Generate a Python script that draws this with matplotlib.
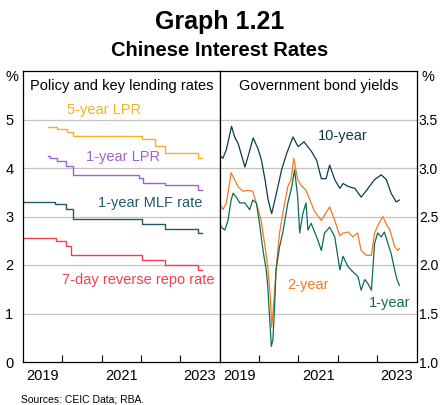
import matplotlib
matplotlib.use("Agg")
import matplotlib.pyplot as plt

plt.rcParams['font.family'] = ['Liberation Sans', 'DejaVu Sans']

# ---- Policy and key lending rates (step series, decimal years) ----
lpr5_dates = [2019.63, 2019.87, 2020.11, 2020.27, 2022.02, 2022.35, 2022.61, 2023.45, 2023.56]
lpr5_vals = [4.85, 4.80, 4.75, 4.65, 4.60, 4.45, 4.30, 4.20, 4.20]

lpr1_dates = [2019.63, 2019.68, 2019.87, 2020.10, 2020.27, 2021.96, 2022.05, 2022.61, 2023.45, 2023.56]
lpr1_vals = [4.25, 4.20, 4.15, 4.05, 3.85, 3.80, 3.70, 3.65, 3.55, 3.55]

mlf_dates = [2019.0, 2019.81, 2020.10, 2020.27, 2022.02, 2022.60, 2023.45, 2023.56]
mlf_vals = [3.30, 3.25, 3.15, 2.95, 2.85, 2.75, 2.65, 2.65]

repo_dates = [2019.0, 2019.85, 2020.10, 2020.23, 2022.02, 2022.61, 2023.45, 2023.56]
repo_vals = [2.55, 2.50, 2.40, 2.20, 2.10, 2.00, 1.90, 1.90]

# ---- Government bond yields ----
y10_dates = [2019.00, 2019.08, 2019.17, 2019.30, 2019.38, 2019.47, 2019.64, 2019.72, 2019.85,
             2019.98, 2020.06, 2020.15, 2020.23, 2020.32, 2020.44, 2020.57, 2020.70, 2020.86,
             2020.99, 2021.14, 2021.33, 2021.46, 2021.58, 2021.70, 2021.79, 2021.92, 2022.05,
             2022.13, 2022.26, 2022.43, 2022.59, 2022.71, 2022.80, 2022.93, 2023.10, 2023.23,
             2023.35, 2023.48, 2023.56]
y10_vals = [3.13, 3.10, 3.19, 3.43, 3.32, 3.25, 3.01, 3.12, 3.31,
            3.19, 3.08, 2.88, 2.67, 2.53, 2.74, 2.98, 3.15, 3.32,
            3.22, 3.27, 3.17, 3.08, 2.89, 2.89, 3.03, 2.88, 2.79,
            2.84, 2.81, 2.79, 2.70, 2.76, 2.81, 2.88, 2.93, 2.88,
            2.74, 2.65, 2.67]

y2_dates = [2019.00, 2019.08, 2019.17, 2019.29, 2019.38, 2019.46, 2019.59, 2019.72, 2019.84,
            2019.97, 2020.05, 2020.14, 2020.22, 2020.29, 2020.32, 2020.39, 2020.45, 2020.52,
            2020.60, 2020.73, 2020.81, 2020.88, 2020.98, 2021.07, 2021.19, 2021.32, 2021.41,
            2021.58, 2021.79, 2021.92, 2022.05, 2022.13, 2022.26, 2022.38, 2022.50, 2022.59,
            2022.72, 2022.85, 2022.93, 2023.02, 2023.14, 2023.24, 2023.32, 2023.44, 2023.52,
            2023.56]
y2_vals = [2.64, 2.57, 2.64, 2.95, 2.88, 2.81, 2.76, 2.77, 2.76,
           2.58, 2.46, 2.22, 1.98, 1.64, 1.36, 1.71, 2.05, 2.33,
           2.53, 2.81, 2.88, 3.10, 2.88, 2.82, 2.77, 2.64, 2.55,
           2.46, 2.60, 2.46, 2.30, 2.33, 2.34, 2.29, 2.33, 2.15,
           2.10, 2.10, 2.33, 2.41, 2.50, 2.41, 2.36, 2.19, 2.15,
           2.17]

y1_dates = [2019.00, 2019.04, 2019.13, 2019.21, 2019.29, 2019.34, 2019.42, 2019.51, 2019.64,
            2019.76, 2019.84, 2019.93, 2020.01, 2020.10, 2020.18, 2020.22, 2020.27, 2020.31,
            2020.35, 2020.39, 2020.43, 2020.52, 2020.60, 2020.73, 2020.83, 2020.90, 2020.98,
            2021.03, 2021.11, 2021.19, 2021.24, 2021.32, 2021.46, 2021.58, 2021.66, 2021.79,
            2021.92, 2022.05, 2022.13, 2022.26, 2022.38, 2022.51, 2022.59, 2022.68, 2022.76,
            2022.85, 2022.93, 2023.01, 2023.10, 2023.18, 2023.27, 2023.35, 2023.44, 2023.50,
            2023.56]
y1_vals = [2.45, 2.39, 2.36, 2.46, 2.67, 2.74, 2.70, 2.64, 2.64,
           2.57, 2.67, 2.64, 2.43, 2.15, 1.95, 1.78, 1.43, 1.16,
           1.23, 1.54, 1.95, 2.19, 2.33, 2.64, 2.81, 2.98, 2.70,
           2.33, 2.53, 2.64, 2.36, 2.43, 2.29, 2.15, 2.33, 2.39,
           2.29, 1.95, 2.09, 1.98, 1.93, 1.88, 1.74, 1.85, 1.81,
           1.74, 2.22, 2.33, 2.29, 2.34, 2.22, 2.12, 1.95, 1.85,
           1.79]

year_ticks = [2020, 2021, 2022, 2023]
year_labels = ['2019', '2021', '2023']
left_ticks = [0, 1, 2, 3, 4, 5, 6]
right_ticks = [1.0, 1.5, 2.0, 2.5, 3.0, 3.5, 4.0]

c_lpr5 = '#F8B020'
c_lpr1 = '#A062CC'
c_mlf = '#245A66'
c_repo = '#F0414F'
c_10 = '#0B3C4E'
c_2 = '#F47920'
c_1 = '#0E6B55'
grid_c = '#C4C4C4'

fig = plt.figure(figsize=(4.4, 4.05), dpi=100)
axl = fig.add_axes([23 / 440, 1 - 362 / 405, 196.7 / 440, 291 / 405])
axr = fig.add_axes([219.7 / 440, 1 - 362 / 405, 197 / 440, 291 / 405])

for ax in (axl, axr):
    ax.set_xlim(2019, 2024)
    ax.set_xticks(year_ticks)
    ax.set_xticklabels([])
    ax.set_xticks([2019.5, 2021.5, 2023.5], minor=True)
    ax.set_xticklabels(year_labels, minor=True, fontsize=10.5)
    ax.tick_params(axis='x', which='major', direction='in', length=5, width=0.8, color='black')
    ax.tick_params(axis='x', which='minor', length=0, pad=5)
    for s in ax.spines.values():
        s.set_linewidth(0.9)
        s.set_color('black')

# left panel
axl.set_ylim(0, 6)
axl.set_yticks(left_ticks[:-1])
axl.set_yticklabels([str(t) for t in left_ticks[:-1]], fontsize=10.5)
axl.tick_params(axis='y', length=0, pad=7)
for t in left_ticks[1:-1]:
    axl.axhline(t, color=grid_c, lw=0.9, zorder=0)
axl.plot(lpr5_dates, lpr5_vals, drawstyle='steps-post', color=c_lpr5, lw=1.0)
axl.plot(lpr1_dates, lpr1_vals, drawstyle='steps-post', color=c_lpr1, lw=1.0)
axl.plot(mlf_dates, mlf_vals, drawstyle='steps-post', color=c_mlf, lw=1.0)
axl.plot(repo_dates, repo_vals, drawstyle='steps-post', color=c_repo, lw=1.0)

axl.text(0.5, 0.95, 'Policy and key lending rates', transform=axl.transAxes,
         ha='center', va='center', fontsize=10.5)
axl.text(2021.05, 5.20, '5-year LPR', color=c_lpr5, ha='center', va='center', fontsize=10.5)
axl.text(2021.55, 4.23, '1-year LPR', color=c_lpr1, ha='center', va='center', fontsize=10.5)
axl.text(2022.24, 3.28, '1-year MLF rate', color=c_mlf, ha='center', va='center', fontsize=10.5)
axl.text(2021.92, 1.69, '7-day reverse repo rate', color=c_repo, ha='center', va='center', fontsize=10.5)

# right panel
axr.set_ylim(1.0, 4.0)
axr.yaxis.tick_right()
axr.set_yticks(right_ticks[:-1])
axr.set_yticklabels([f'{t:.1f}' for t in right_ticks[:-1]], fontsize=10)
axr.tick_params(axis='y', length=0, pad=1.5)
for t in right_ticks[1:-1]:
    axr.axhline(t, color=grid_c, lw=0.9, zorder=0)
axr.plot(y10_dates, y10_vals, color=c_10, lw=0.9)
axr.plot(y2_dates, y2_vals, color=c_2, lw=0.9)
axr.plot(y1_dates, y1_vals, color=c_1, lw=0.9)

axr.text(0.5, 0.95, 'Government bond yields', transform=axr.transAxes,
         ha='center', va='center', fontsize=10.5)
axr.text(2022.12, 3.33, '10-year', color=c_10, ha='center', va='center', fontsize=10.5)
axr.text(2021.24, 1.79, '2-year', color=c_2, ha='center', va='center', fontsize=10.5)
axr.text(2023.32, 1.61, '1-year', color=c_1, ha='center', va='center', fontsize=10.5)

# titles and notes
fig.text(0.5, 1 - 22 / 405, 'Graph 1.21', ha='center', va='center', fontsize=18, fontweight='bold')
fig.text(0.5, 1 - 50 / 405, 'Chinese Interest Rates', ha='center', va='center', fontsize=14.5, fontweight='bold')
fig.text(12 / 440, 1 - 77 / 405, '%', ha='center', va='center', fontsize=10.5)
fig.text(428 / 440, 1 - 77 / 405, '%', ha='center', va='center', fontsize=10.5)
fig.text(21 / 440, 1 - 399 / 405, 'Sources: CEIC Data; RBA.', ha='left', va='center', fontsize=7.5)

fig.savefig('out.png', dpi=100)
